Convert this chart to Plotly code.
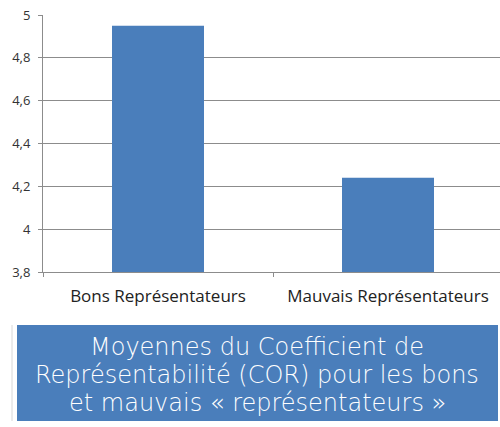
import plotly.graph_objects as go

# Mean COR value per group of representers
categories = ["Bons Représentateurs", "Mauvais Représentateurs"]
values = [4.95, 4.24]
y_ticks = [3.8, 4.0, 4.2, 4.4, 4.6, 4.8, 5.0]
y_tick_labels = ["3,8", "4", "4,2", "4,4", "4,6", "4,8", "5"]
title_lines = [
    "Moyennes du Coefficient de",
    "Représentabilité (COR) pour les bons",
    "et mauvais « représentateurs »",
]

W, H = 500, 427
L, T, B = 43, 15, 155
plot_w = W - L
plot_h = H - T - B


def px_x(px):
    return (px - L) / plot_w


def px_y(py):
    return (H - B - py) / plot_h


fig = go.Figure(
    go.Bar(
        x=categories,
        y=values,
        width=0.4,
        marker=dict(color="#4a7ebb", line=dict(width=0)),
        hoverinfo="skip",
    )
)

fig.update_layout(
    width=W,
    height=H,
    margin=dict(l=L, r=0, t=T, b=B),
    paper_bgcolor="white",
    plot_bgcolor="white",
    showlegend=False,
    font=dict(family="Open Sans, sans-serif", color="#222"),
)

fig.update_yaxes(
    range=[3.8, 5.0],
    tickvals=y_ticks,
    ticktext=y_tick_labels,
    tickfont=dict(size=13, family="Open Sans", color="#333"),
    showgrid=True,
    gridcolor="#8c8c8c",
    gridwidth=1,
    showline=True,
    linecolor="#8c8c8c",
    linewidth=1,
    ticks="outside",
    ticklen=4,
    tickcolor="#8c8c8c",
    ticklabelstandoff=5,
    zeroline=False,
)

fig.update_xaxes(
    range=[-0.5, -0.5 + plot_w / 230],
    tickson="boundaries",
    ticks="outside",
    ticklen=4,
    tickcolor="#8c8c8c",
    showline=True,
    linecolor="#8c8c8c",
    linewidth=1,
    tickfont=dict(size=17, family="Open Sans", color="#222"),
    ticklabelstandoff=9,
)

# Blue caption box beneath the chart
fig.add_shape(
    type="rect",
    xref="paper",
    yref="paper",
    x0=px_x(17),
    x1=px_x(498),
    y0=px_y(421),
    y1=px_y(325),
    fillcolor="#4a7ebb",
    line=dict(width=0),
    layer="above",
)
fig.add_shape(
    type="line",
    xref="paper",
    yref="paper",
    x0=px_x(12),
    x1=px_x(12),
    y0=px_y(421),
    y1=px_y(325),
    line=dict(color="#d8d8d8", width=1),
)

# Caption text, one line per annotation
for line_text, cy in zip(title_lines, [347, 375, 403]):
    fig.add_annotation(
        xref="paper",
        yref="paper",
        x=px_x(257),
        y=px_y(cy),
        text=line_text,
        showarrow=False,
        xanchor="center",
        yanchor="middle",
        font=dict(size=24, color="white", family="DejaVu Sans", weight=300),
    )

fig.write_html("out.html")
